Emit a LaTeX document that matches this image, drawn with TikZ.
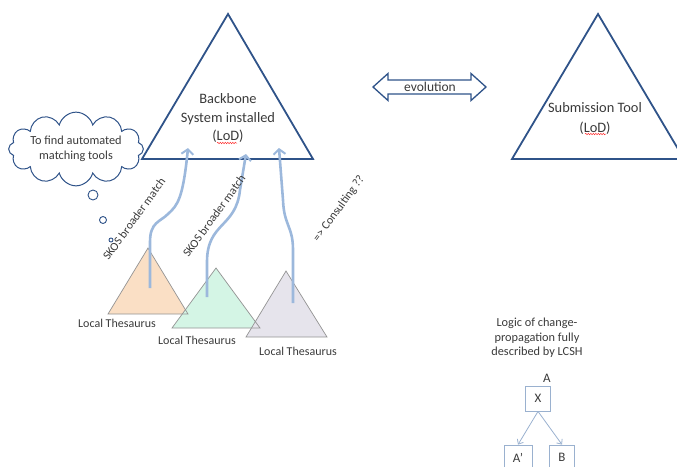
\documentclass[tikz,border=0pt]{standalone}
\usepackage{fontspec}
\setmainfont{Carlito}
\usetikzlibrary{shapes.symbols,arrows.meta,decorations.pathmorphing}
\definecolor{tri}{HTML}{2F5389}
\definecolor{txt}{HTML}{3A3A3A}
\definecolor{flow}{HTML}{9CB8DC}
\definecolor{peach}{HTML}{FADFC5}
\definecolor{mint}{HTML}{D4F5E5}
\definecolor{lilac}{HTML}{E6E4EC}
\definecolor{boxc}{HTML}{9AB1CF}
\tikzset{
  bigtri/.style={draw=tri, line width=1.8pt, line join=miter},
  loctri/.style={draw=gray!85, line width=0.7pt},
  lbl/.style={text=txt, font=\fontsize{12}{14}\selectfont, inner sep=0pt},
  midlbl/.style={text=txt, font=\fontsize{13.5}{16}\selectfont, inner sep=0pt, align=center},
  bigtxt/.style={text=txt, font=\fontsize{14.4}{18.5}\selectfont, inner sep=0pt, align=center},
  rotlbl/.style={text=txt, font=\fontsize{11.8}{14}\selectfont, inner sep=0pt, rotate=54},
  flowarrow/.style={draw=flow, line width=2.6pt, -{Straight Barb[length=5pt,width=12pt,line width=2pt]}},
  bubble/.style={circle, draw=tri, line width=0.9pt, inner sep=0pt},
  smallbox/.style={draw=boxc, line width=0.8pt, minimum width=25pt, minimum height=25pt, inner sep=0pt, text=txt, font=\fontsize{13}{15}\selectfont},
  treearrow/.style={draw=boxc, line width=0.8pt, -{Straight Barb[length=4pt,width=7pt]}},
  spell/.style={draw=red!80, line width=0.5pt, decorate, decoration={snake, amplitude=0.7pt, segment length=2.5pt}}
}
\begin{document}
\begin{tikzpicture}[x=1pt,y=-1pt]
\useasboundingbox (0,0) rectangle (677,466);
% big triangles
\draw[bigtri] (228,14) -- (313,159) -- (142,159) -- cycle;
\draw[bigtri] (598,14) -- (684,159) -- (512,159) -- cycle;
\node[bigtxt] (bb) at (228,118) {Backbone\\System installed\\(LoD)};
\node[bigtxt, font=\fontsize{14.4}{20}\selectfont] (st) at (595,118) {Submission Tool\\(LoD)};
\coordinate (u1a) at (217,143);
\coordinate (u1b) at (237,143);
\coordinate (u2a) at (585,134);
\coordinate (u2b) at (606,134);
\draw[spell] (u1a) -- (u1b);
\draw[spell] (u2a) -- (u2b);
% evolution double arrow
\draw[draw=tri, line width=1.3pt, fill=white, line join=miter]
  (373,87) -- (388,73.5) -- (388,80) -- (471,80) -- (471,73.5) -- (486,87)
  -- (471,100.5) -- (471,94) -- (388,94) -- (388,100.5) -- cycle;
\node[midlbl] (evo) at (430,87) {evolution};
% cloud
\node[cloud, draw=tri, line width=1pt, cloud puffs=12, aspect=2.6, minimum width=116pt, minimum height=48pt, inner sep=0pt, align=center, text=txt, font=\fontsize{12.3}{15}\selectfont] (cloud) at (76,149) {To find automated\\matching tools};
\node[bubble, minimum size=10pt] (b1) at (93,195) {};
\node[bubble, minimum size=7pt] (b2) at (103,220) {};
\node[bubble, minimum size=4pt] (b3) at (111,240) {};
% local thesauri
\fill[peach] (148,248) -- (188,314) -- (108,314) -- cycle;
\fill[mint] (216,268) -- (260,328) -- (172,328) -- cycle;
\fill[lilac] (286,271) -- (327,337) -- (246,337) -- cycle;
\draw[loctri] (148,248) -- (188,314) -- (108,314) -- cycle;
\draw[loctri] (216,268) -- (260,328) -- (172,328) -- cycle;
\draw[loctri] (286,271) -- (327,337) -- (246,337) -- cycle;
\node[lbl] (l1) at (117,323) {Local Thesaurus};
\node[lbl] (l2) at (197,340) {Local Thesaurus};
\node[lbl] (l3) at (298,351) {Local Thesaurus};
% flow arrows
\coordinate (s1) at (150,288);
\coordinate (e1) at (188,148);
\coordinate (s2) at (207,297);
\coordinate (e2) at (246,154);
\coordinate (s3) at (293,303);
\coordinate (e3) at (279,148);
\draw[flowarrow] (s1) -- (150,242) .. controls (150,222) and (160,222) .. (168,214) .. controls (178,205) and (183,198) .. (e1);
\draw[flowarrow] (s2) -- (207,262) .. controls (207,222) and (236,228) .. (240,190) -- (e2);
\draw[flowarrow] (s3) -- (293,250) .. controls (293,226) and (284,226) .. (283,200) -- (e3);
% rotated labels
\node[rotlbl] (m1) at (134,219) {SKOS broader match};
\node[rotlbl] (m2) at (214,216) {SKOS broader match};
\node[rotlbl] (m3) at (339,209) {=> Consulting ??};
% logic
\node[midlbl, font=\fontsize{12.3}{14.5}\selectfont] (logic) at (537,338) {Logic of change-\\propagation fully\\described by LCSH};
\node[lbl, font=\fontsize{13}{15}\selectfont] (A) at (547,378) {A};
\node[smallbox] (X) at (538,398.5) {X};
\node[smallbox, minimum width=28pt] (Ap) at (518,457.5) {A’};
\node[smallbox] (B) at (562,457.5) {B};
\draw[treearrow] (X.south) -- (Ap.north);
\draw[treearrow] (X.south) -- (B.north);
\end{tikzpicture}
\end{document}
